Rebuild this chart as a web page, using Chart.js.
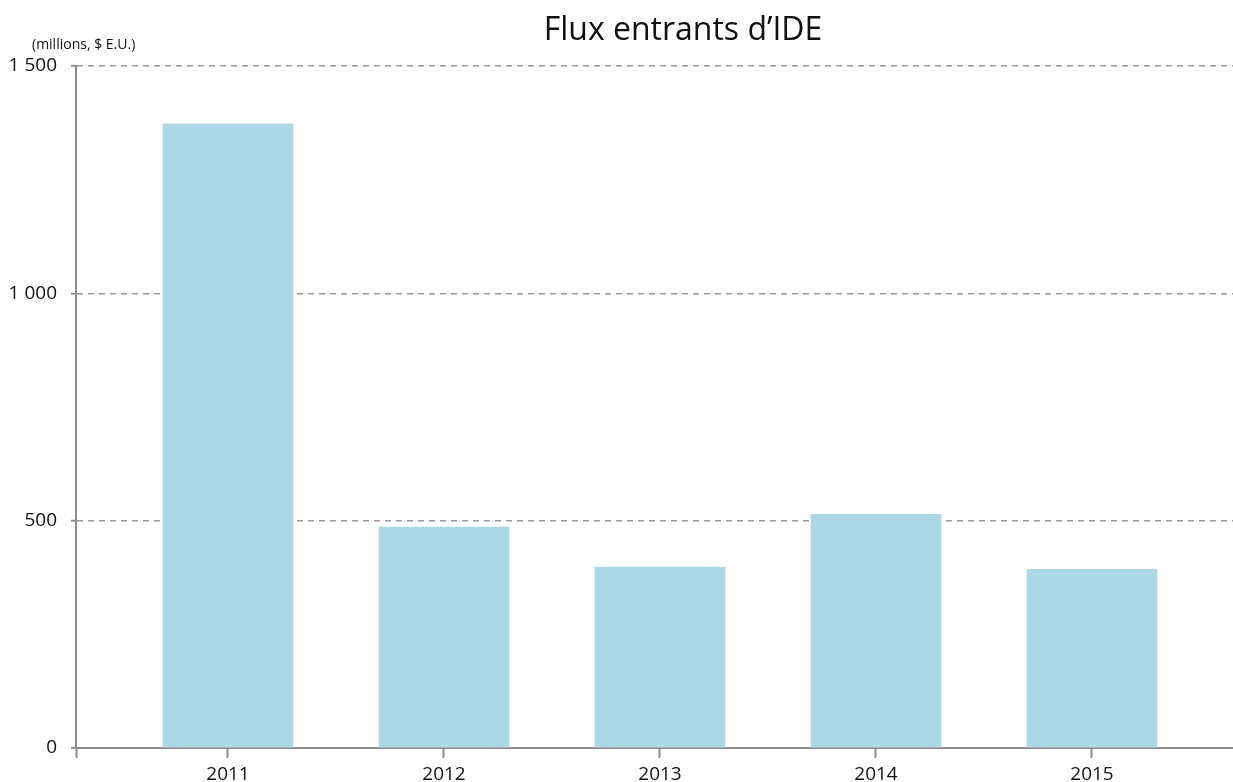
<!DOCTYPE html>
<html>
<head>
<meta charset="utf-8">
<script src="https://cdn.jsdelivr.net/npm/chart.js@4"></script>
<style>
html,body{margin:0;padding:0;background:#fff;}
#wrap{position:relative;width:1233px;height:782px;}
</style>
</head>
<body>
<div id="wrap"><canvas id="fdi" width="1233" height="782"></canvas></div>
<script>
// data
const years=[2011,2012,2013,2014,2015];
const inflows=[1372,486,398,514,393];
const yTicks=[0,500,1000,1500];
const titleText='Flux entrants d\u2019IDE';
const unitText='(millions, $ E.U.)';

const FONT='"Open Sans", "Noto Sans", sans-serif';
const fmt=v=>String(v).replace(/\B(?=(\d{3})+(?!\d))/g,' ');

// title + unit label drawn on the canvas
const labels={
 id:'labels',
 afterDraw(c){
  const ctx=c.ctx;ctx.save();
  ctx.fillStyle='#111';
  ctx.textBaseline='middle';
  ctx.textAlign='center';
  ctx.font='32px '+FONT;
  ctx.fillText(titleText,683,31);
  ctx.textAlign='left';
  ctx.font='14px '+FONT;
  ctx.fillText(unitText,32,45);
  ctx.restore();
 }
};

const xMin=2011-152/216, xMax=xMin+1157/216;

new Chart(document.getElementById('fdi'),{
 type:'bar',
 data:{
  datasets:[{
   data:years.map((y,i)=>({x:y,y:inflows[i]})),
   backgroundColor:'#acd8e6',
   borderWidth:0,
   barThickness:130
  }]
 },
 options:{
  responsive:false,
  animation:false,
  layout:{padding:{top:66,left:0,right:0,bottom:0}},
  plugins:{legend:{display:false},tooltip:{enabled:false},title:{display:false}},
  scales:{
   x:{
    type:'linear',
    offset:false,
    min:xMin,max:xMax,
    afterBuildTicks:s=>{s.ticks=[{value:xMin}].concat(years.map(v=>({value:v})));},
    afterFit:s=>{s.height=34;},
    grid:{offset:false,drawOnChartArea:false,drawTicks:true,tickLength:10,color:'#8c8c8c',tickWidth:2},
    border:{display:true,color:'#8c8c8c',width:2},
    ticks:{
     autoSkip:false,maxRotation:0,padding:5,color:'#111',
     font:{family:FONT,size:19},
     callback:v=>Number.isInteger(v)?String(v):''
    }
   },
   y:{
    min:0,max:1500,
    afterBuildTicks:s=>{s.ticks=yTicks.map(v=>({value:v}));},
    afterFit:s=>{s.width=76;},
    grid:{
     color:c=>c.tick&&c.tick.value===0?'rgba(0,0,0,0)':'#9a9a9a',
     lineWidth:1.5,
     drawTicks:true,tickLength:5,tickColor:'#8c8c8c',tickWidth:2
    },
    border:{display:true,color:'#8c8c8c',width:2,dash:[6,5]},
    ticks:{padding:14,color:'#111',font:{family:FONT,size:19},callback:v=>fmt(v)}
   }
  }
 },
 plugins:[labels]
});
</script>
</body>
</html>
